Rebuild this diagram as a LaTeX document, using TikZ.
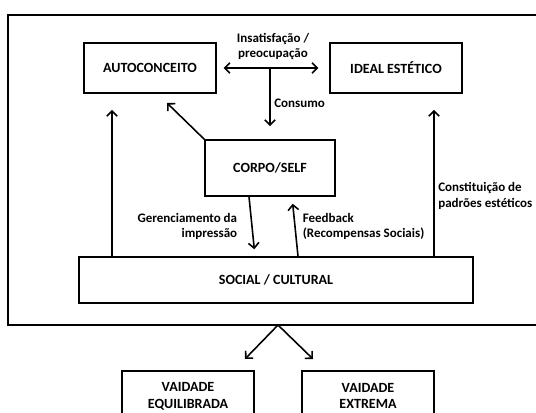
\documentclass[tikz,border=0pt]{standalone}
\usepackage{fontspec}
\setmainfont{Carlito}
\usetikzlibrary{arrows.meta}

\begin{document}
\begin{tikzpicture}[x=0.02cm,y=-0.02cm,>={Straight Barb[length=3pt,width=6pt]}]

	\tikzstyle{box}=[draw,rectangle,line width=0.9pt,text centered,align=center,font=\fontsize{8}{9.5}\selectfont\bfseries,minimum width=2.63cm,minimum height=1cm]
	\tikzstyle{note}=[font=\fontsize{7.4}{9}\selectfont\bfseries,inner sep=2pt]
	\tikzstyle{link}=[->,line width=0.9pt]

	\useasboundingbox (0,0) rectangle (536,412);
	\clip (0,0) rectangle (536,412);

	\node[draw,line width=1.2pt,minimum width=10.64cm,minimum height=6.2cm] (frame) at (274,170) {};

	\node[box] (auto) at (150,68) {AUTOCONCEITO};
	\node[box] (ideal) at (396,68) {IDEAL ESTÉTICO};
	\node[box,minimum width=2.6cm,minimum height=1.12cm] (corpo) at (270,168) {CORPO/SELF};
	\node[box,minimum width=7.88cm,minimum height=0.92cm] (social) at (276,280) {SOCIAL / CULTURAL};

	\node[box] (equil) at (188,396) {VAIDADE\\EQUILIBRADA};
	\node[box] (extrema) at (368,396) {VAIDADE\\EXTREMA};

	\coordinate (mid) at (270,68);
	\coordinate (lft) at (112,0);
	\coordinate (rgt) at (434,0);
	\coordinate (tipA) at (167,103);
	\coordinate (split) at (278,325);
	\coordinate (endL) at (245,359);
	\coordinate (endR) at (313,359);

	\draw[<->,line width=0.9pt,shorten <=0.14cm,shorten >=0.22cm] (auto.east) -- (ideal.west) node[midway,above,note,align=center,yshift=2pt] {Insatisfação /\\preocupação};
	\draw[link,shorten >=0.26cm] (mid) -- (mid |- corpo.north) node[midway,right,note] {Consumo};

	\draw[link] (corpo.north west) -- (tipA);

	\draw[link,shorten >=0.32cm] (social.north -| lft) -- (auto.south -| lft);
	\draw[link,shorten >=0.32cm] (social.north -| rgt) -- (ideal.south -| rgt) node[pos=0.37,right,note,align=left] {Constituição de\\padrões estéticos};

	\draw[link,shorten >=0.14cm] ([xshift=-0.42cm]corpo.south) -- ([xshift=-0.42cm]social.north) node[midway,left,note,align=right,xshift=-6pt] {Gerenciamento da\\impressão};
	\draw[link,shorten >=0.14cm] ([xshift=0.44cm]social.north) -- ([xshift=0.44cm]corpo.south) node[midway,right,note,align=left,xshift=2pt] {Feedback\\(Recompensas Sociais)};

	\draw[link] (split) -- (endL);
	\draw[link] (split) -- (endR);

\end{tikzpicture}
\end{document}
